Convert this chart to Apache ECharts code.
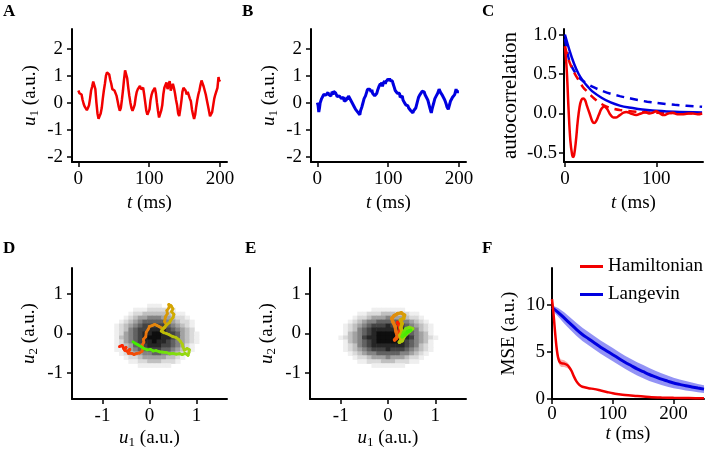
<!DOCTYPE html>
<html><head><meta charset="utf-8">
<script src="https://cdn.jsdelivr.net/npm/echarts@6/dist/echarts.min.js"></script>
<style>html,body{margin:0;padding:0;background:#fff}#c{width:719px;height:457px}</style>
</head><body><div id="c"></div>
<script>
// ---------- DATA ----------
// Panel A: Hamiltonian trace u1(t)
const traceHam = [[0,0.45],[1.5,0.35],[3,0.42],[4.5,0.3],[6,0.1],[7.5,-0.05],[9,-0.15],[10.5,-0.1],[12,-0.28],[13.5,-0.2],[15,-0.1],[16.5,0.15],[18,0.45],[19.5,0.6],[21,0.78],[22.5,0.72],[24,0.5],[25.5,0.0],[27,-0.4],[28.5,-0.6],[30,-0.5],[31.5,-0.4],[33,-0.2],[34.5,0.15],[36,0.45],[37.5,0.7],[39,1.0],[40.5,1.12],[42,1.15],[43.5,1.05],[45,0.85],[46.5,0.7],[48,0.5],[49.5,0.55],[51,0.45],[52.5,0.42],[54,0.25],[55.5,0.05],[57,-0.15],[58.5,-0.3],[60,-0.2],[61.5,0.1],[63,0.45],[64.5,0.85],[66,1.2],[67.5,1.2],[69,0.9],[70.5,0.55],[72,0.25],[73.5,0.0],[75,-0.2],[76.5,-0.3],[78,-0.2],[79.5,-0.08],[81,0.2],[82.5,0.4],[84,0.5],[85.5,0.45],[87,0.62],[88.5,0.5],[90,0.45],[91.5,0.55],[93,0.3],[94.5,0.0],[96,-0.3],[97.5,-0.45],[99,-0.35],[100.5,-0.25],[102,0.1],[103.5,0.3],[105,0.42],[106.5,0.45],[108,0.55],[109.5,0.35],[111,0.0],[112.5,-0.3],[114,-0.55],[115.5,-0.5],[117,-0.3],[118.5,-0.1],[120,0.3],[121.5,0.55],[123,0.6],[124.5,0.75],[126,0.5],[127.5,0.65],[129,0.8],[130.5,0.45],[132,0.5],[133.5,0.7],[135,0.55],[136.5,0.35],[138,0.1],[139.5,-0.1],[141,-0.4],[142.5,-0.5],[144,-0.25],[145.5,0.05],[147,0.4],[148.5,0.55],[150,0.62],[151.5,0.45],[153,0.3],[154.5,0.4],[156,0.38],[157.5,0.15],[159,0.05],[160.5,-0.25],[162,-0.45],[163.5,-0.6],[165,-0.45],[166.5,-0.15],[168,0.1],[169.5,0.3],[171,0.45],[172.5,0.65],[174,0.82],[175.5,0.75],[177,0.6],[178.5,0.55],[180,0.3],[181.5,0.1],[183,-0.1],[184.5,-0.3],[186,-0.5],[187.5,-0.55],[189,-0.35],[190.5,-0.1],[192,0.15],[193.5,0.3],[195,0.35],[196.5,0.55],[198,0.95],[199,0.8],[200,0.85]];

// Panel B: Langevin trace u1(t)
const traceLan = [[0,0.0],[1,-0.1],[2,-0.35],[3,-0.2],[4,0.0],[5,-0.05],[6,0.15],[7,0.2],[8,0.15],[9,0.3],[10,0.25],[11,0.32],[12,0.28],[13,0.35],[14,0.22],[15,0.38],[16,0.3],[17,0.28],[18,0.35],[19,0.25],[20,0.32],[21,0.4],[22,0.3],[23,0.42],[24,0.38],[25,0.45],[26,0.35],[27,0.3],[28,0.22],[29,0.28],[30,0.2],[31,0.25],[32,0.18],[33,0.25],[34,0.15],[35,0.2],[36,0.12],[37,0.2],[38,0.05],[39,0.12],[40,0.02],[41,0.1],[42,0.2],[43,0.12],[44,0.25],[45,0.18],[46,0.22],[47,0.1],[48,0.05],[49,0.08],[50,-0.05],[51,-0.1],[52,-0.15],[53,-0.12],[54,-0.25],[55,-0.2],[56,-0.3],[57,-0.35],[58,-0.42],[59,-0.35],[60,-0.45],[61,-0.3],[62,-0.25],[63,-0.15],[64,-0.05],[65,0.05],[66,0.15],[67,0.1],[68,0.25],[69,0.3],[70,0.42],[71,0.5],[72,0.45],[73,0.55],[74,0.5],[75,0.45],[76,0.4],[77,0.48],[78,0.35],[79,0.3],[80,0.4],[81,0.25],[82,0.32],[83,0.2],[84,0.35],[85,0.45],[86,0.5],[87,0.6],[88,0.55],[89,0.7],[90,0.62],[91,0.75],[92,0.6],[93,0.72],[94,0.68],[95,0.8],[96,0.7],[97,0.78],[98,0.85],[99,0.75],[100,0.88],[101,0.8],[102,0.9],[103,0.82],[104,0.88],[105,0.78],[106,0.8],[107,0.7],[108,0.62],[109,0.55],[110,0.45],[111,0.4],[112,0.48],[113,0.35],[114,0.42],[115,0.3],[116,0.35],[117,0.2],[118,0.25],[119,0.15],[120,0.25],[121,0.1],[122,0.15],[123,0.0],[124,0.05],[125,-0.08],[126,-0.05],[127,-0.15],[128,-0.12],[129,-0.2],[130,-0.25],[131,-0.2],[132,-0.3],[133,-0.35],[134,-0.28],[135,-0.38],[136,-0.3],[137,-0.32],[138,-0.25],[139,-0.2],[140,-0.1],[141,0.0],[142,0.1],[143,0.2],[144,0.15],[145,0.3],[146,0.25],[147,0.35],[148,0.42],[149,0.35],[150,0.45],[151,0.4],[152,0.3],[153,0.35],[154,0.2],[155,0.25],[156,0.1],[157,0.0],[158,-0.1],[159,-0.2],[160,-0.3],[161,-0.38],[162,-0.25],[163,-0.15],[164,-0.05],[165,0.05],[166,0.15],[167,0.1],[168,0.25],[169,0.3],[170,0.35],[171,0.42],[172,0.5],[173,0.45],[174,0.38],[175,0.42],[176,0.3],[177,0.35],[178,0.2],[179,0.25],[180,0.1],[181,0.05],[182,-0.05],[183,-0.15],[184,-0.2],[185,-0.25],[186,-0.15],[187,-0.05],[188,0.05],[189,0.0],[190,0.12],[191,0.2],[192,0.15],[193,0.25],[194,0.3],[195,0.35],[196,0.5],[197,0.4],[198,0.45],[199,0.35],[200,0.4]];

// Panel C: autocorrelations
const acHamT   = [0,2,4,6,8,9,10,12,14,16,18,20,22,24,27,30,32,34,37,40,43,46,50,53,56,60,64,67,72,78,83,88,92,96,100,104,108,113,118,123,128,135,140,145,150];
const acHamV   = [0.85,0.55,0.05,-0.35,-0.53,-0.55,-0.53,-0.35,-0.1,0.08,0.17,0.19,0.17,0.1,0.0,-0.1,-0.12,-0.1,-0.02,0.06,0.09,0.06,-0.02,-0.05,-0.05,-0.02,0.01,0.02,0.0,-0.02,0.0,0.02,0.0,0.01,0.03,0.0,-0.02,0.0,0.01,-0.01,-0.01,0.0,0.0,-0.01,0.0];
const acHamTheoT = [0,3,6,10,15,20,25,30,35,40,45,50,60,80,100,125,150];
const acHamTheoV = [0.85,0.72,0.62,0.52,0.42,0.33,0.27,0.21,0.16,0.12,0.09,0.07,0.045,0.02,0.01,0.005,0.0];
const acLanT   = [0,5,10,15,20,25,30,40,50,60,70,80,90,100,120,150];
const acLanV   = [1.0,0.8,0.63,0.5,0.41,0.34,0.28,0.2,0.14,0.1,0.075,0.058,0.045,0.035,0.022,0.012];
const acLanTheoT = [0,2,5,10,15,20,30,40,50,60,70,80,90,100,120,150];
const acLanTheoV = [0.95,0.82,0.66,0.54,0.46,0.41,0.34,0.29,0.25,0.22,0.195,0.17,0.15,0.135,0.11,0.085];

// Panel D: density (shade levels 0-9) and trajectory
const densD_u1 = [-0.9,-0.8,-0.7,-0.6,-0.5,-0.4,-0.3,-0.2,-0.1,0.0,0.1,0.2,0.3,0.4,0.5,0.6,0.7,0.8,0.9,1.0,1.1];
const densD_u2 = [0.8,0.7,0.6,0.5,0.4,0.3,0.2,0.1,0.0,-0.1,-0.2,-0.3,-0.4,-0.5,-0.6,-0.7,-0.8,-0.9,-1.0];
const densD_rows = [
"000000000000000000000",
"000000000111000000000",
"000000111222211000000",
"000001223333332110000",
"000012344555443221000",
"000123456666654322100",
"001234567777765432100",
"001235677888876543200",
"001245678899877643210",
"001345678999887643210",
"001245678898876543210",
"001234667888776542100",
"001134566777665432100",
"000123445566554321000",
"000012234444433210000",
"000001122333222100000",
"000000011111110000000",
"000000000000000000000",
"000000000000000000000"];
const trajD = [[-0.64,-0.33],[-0.58,-0.3],[-0.55,-0.38],[-0.5,-0.35],[-0.53,-0.42],[-0.47,-0.45],[-0.42,-0.4],[-0.45,-0.5],[-0.38,-0.5],[-0.33,-0.53],[-0.27,-0.5],[-0.21,-0.49],[-0.16,-0.45],[-0.14,-0.36],[-0.16,-0.3],[-0.12,-0.22],[-0.13,-0.15],[-0.08,-0.08],[-0.07,0.03],[-0.03,0.1],[0.0,0.18],[0.06,0.2],[0.11,0.23],[0.16,0.2],[0.21,0.17],[0.26,0.14],[0.28,0.1],[0.33,0.16],[0.36,0.22],[0.32,0.3],[0.34,0.42],[0.38,0.5],[0.37,0.58],[0.42,0.66],[0.41,0.73],[0.46,0.7],[0.5,0.62],[0.47,0.55],[0.52,0.48],[0.5,0.4],[0.45,0.33],[0.43,0.28],[0.37,0.22],[0.32,0.16],[0.27,0.1],[0.25,0.06],[0.3,0.02],[0.36,0.0],[0.42,-0.03],[0.5,-0.08],[0.56,-0.1],[0.62,-0.15],[0.66,-0.2],[0.7,-0.27],[0.71,-0.33],[0.74,-0.42],[0.8,-0.38],[0.85,-0.41],[0.84,-0.48],[0.82,-0.55],[0.76,-0.5],[0.7,-0.53],[0.64,-0.51],[0.57,-0.52],[0.5,-0.5],[0.43,-0.51],[0.36,-0.48],[0.28,-0.47],[0.21,-0.46],[0.14,-0.43],[0.08,-0.44],[0.02,-0.4],[-0.05,-0.41],[-0.12,-0.38],[-0.18,-0.33],[-0.24,-0.29],[-0.3,-0.25],[-0.35,-0.21]];

// Panel E: density (shade levels 0-9) and trajectory
const densE_u1 = [-1.1,-1.0,-0.9,-0.8,-0.7,-0.6,-0.5,-0.4,-0.3,-0.2,-0.1,0.0,0.1,0.2,0.3,0.4,0.5,0.6,0.7,0.8,0.9,1.0,1.1];
const densE_u2 = [0.8,0.7,0.6,0.5,0.4,0.3,0.2,0.1,0.0,-0.1,-0.2,-0.3,-0.4,-0.5,-0.6,-0.7,-0.8,-0.9,-1.0];
const densE_rows = [
"00000000000000000000000",
"00000000000000000000000",
"00000000111111100000000",
"00000112223332221100000",
"00001223444544432210000",
"00012345566666554321000",
"00123456777877765432100",
"00123567888888876532100",
"00134567899999876543100",
"01234578899999887543210",
"00134567899999876543100",
"00123567888888876532100",
"00123456777877765432100",
"00012345566666554321000",
"00001223444544432210000",
"00000112223332221100000",
"00000000111111100000000",
"00000000000000000000000",
"00000000000000000000000"];
const trajE = [[0.2,0.28],[0.24,0.2],[0.26,0.08],[0.22,-0.02],[0.18,-0.12],[0.14,-0.16],[0.2,-0.08],[0.17,0.05],[0.15,0.18],[0.1,0.3],[0.08,0.38],[0.13,0.45],[0.2,0.5],[0.28,0.52],[0.35,0.46],[0.33,0.38],[0.26,0.34],[0.3,0.25],[0.27,0.15],[0.3,0.05],[0.25,-0.05],[0.28,-0.15],[0.24,-0.22],[0.3,-0.18],[0.34,-0.08],[0.4,0.0],[0.46,0.06],[0.52,0.12],[0.45,0.15],[0.38,0.12],[0.33,0.02],[0.3,-0.08],[0.36,-0.03],[0.42,0.05],[0.48,0.08]];

// Panel F: MSE over time
const mseLanT  = [0,10,20,30,40,50,60,70,80,90,100,110,120,130,140,150,160,170,180,190,200,210,220,230,240,250];
const mseLanM  = [9.7,9.2,8.6,8.0,7.4,6.85,6.4,5.95,5.5,5.1,4.7,4.3,3.9,3.55,3.2,2.9,2.6,2.35,2.1,1.9,1.7,1.55,1.4,1.28,1.16,1.05];
const mseLanLo = [9.45,8.75,8.0,7.35,6.7,6.15,5.7,5.25,4.8,4.4,4.0,3.6,3.2,2.85,2.5,2.2,1.92,1.7,1.48,1.3,1.15,1.03,0.9,0.81,0.72,0.63];
const mseLanHi = [9.95,9.65,9.2,8.65,8.1,7.55,7.1,6.65,6.2,5.8,5.4,5.0,4.6,4.25,3.9,3.6,3.28,3.0,2.72,2.5,2.25,2.07,1.9,1.75,1.6,1.47];
const mseHamT  = [0,2,4,6,8,10,12,15,20,25,28,32,36,40,45,50,60,70,80,90,100,110,120,140,160,180,200,225,250];
const mseHamM  = [10.6,9.4,7.9,6.4,5.2,4.4,4.0,3.8,3.75,3.6,3.4,3.0,2.4,1.9,1.5,1.3,1.15,1.05,0.9,0.75,0.6,0.5,0.42,0.32,0.22,0.16,0.12,0.1,0.08];
const mseHamLo = [10.3,9.1,7.6,6.1,4.9,4.0,3.6,3.4,3.4,3.3,3.15,2.8,2.25,1.78,1.4,1.22,1.08,0.98,0.84,0.7,0.55,0.46,0.38,0.29,0.2,0.14,0.1,0.08,0.06];
const mseHamHi = [10.9,9.7,8.2,6.7,5.5,4.8,4.4,4.2,4.1,3.9,3.65,3.2,2.55,2.02,1.6,1.38,1.22,1.12,0.96,0.8,0.65,0.54,0.46,0.35,0.24,0.18,0.14,0.12,0.1];

// Tick values
const ticksTrace = [0,100,200], ticksU = [-2,-1,0,1,2];
const ticksAcT = [0,100], ticksAc = [-0.5,0,0.5,1];
const ticksPlane = [-1,0,1];
const ticksMseT = [0,100,200], ticksMse = [0,5,10];
const legendNames = ['Hamiltonian','Langevin'];

// ---------- STYLE / BUILD ----------
const FONT = '"Liberation Serif","Times New Roman",serif';
const FS = 19;
const RED = '#f20000', BLUE = '#0000e0';
const rich = {
  i: {fontFamily: FONT, fontSize: FS, fontStyle: 'italic', color: '#000', lineHeight: 20},
  s: {fontFamily: FONT, fontSize: 13, color: '#000', lineHeight: 13, padding: [9,0,0,0]},
  n: {fontFamily: FONT, fontSize: FS, color: '#000', lineHeight: 20},
  w: {fontFamily: FONT, fontSize: 21, color: '#000', lineHeight: 22}
};
const greys = ['#ffffff','#efefef','#dadada','#c0c0c0','#a2a2a2','#838383','#626262','#434343','#262626','#0e0e0e'];
const trajStops = [[255,34,0],[230,126,16],[208,172,0],[164,212,20],[64,238,0]];
function trajColor(f){
  const p = f*(trajStops.length-1), k = Math.min(Math.floor(p), trajStops.length-2), r = p-k;
  const a = trajStops[k], b = trajStops[k+1];
  return 'rgb('+a.map((v,j)=>Math.round(v+(b[j]-v)*r)).join(',')+')';
}
function pairs(xs, ys){ return xs.map((x,i)=>[x, ys[i]]); }
function cells(u1s, u2s, rows){
  const out = [];
  rows.forEach((row, r) => { for (let c = 0; c < row.length; c++) { const lv = +row[c]; if (lv > 0) out.push([u1s[c], u2s[r], lv]); } });
  return out;
}
function axis(grid, min, max, ticks, name, nameGap, margin, fmt){
  return {
    type: 'value', gridIndex: grid, min: min, max: max,
    name: name, nameLocation: 'middle', nameGap: nameGap,
    nameTextStyle: {fontFamily: FONT, fontSize: FS, color: '#000', rich: rich},
    axisLine: {show: true, onZero: false, lineStyle: {color: '#000', width: 2}},
    axisTick: {show: true, customValues: ticks, length: 5, lineStyle: {color: '#000', width: 1.5}},
    axisLabel: {show: true, customValues: ticks, margin: margin, fontFamily: FONT, fontSize: FS, color: '#000', formatter: fmt},
    splitLine: {show: false}
  };
}
const tName = '{i|t}{n| (ms)}';
const u1Name = '{i|u}{s|1}{n| (a.u.)}';
const u2Name = '{i|u}{s|2}{n| (a.u.)}';

const grids = [
  {left: 72, top: 29, width: 155, height: 133},
  {left: 311, top: 29, width: 155, height: 133},
  {left: 564, top: 29, width: 139, height: 133},
  {left: 72, top: 268, width: 155, height: 131},
  {left: 310, top: 268, width: 156, height: 131},
  {left: 552, top: 268, width: 152, height: 131}
];
const xAxes = [
  axis(0, -9, 210, ticksTrace, tName, 31, 8),
  axis(1, -9, 210, ticksTrace, tName, 31, 8),
  axis(2, -1, 151, ticksAcT, tName, 31, 8),
  axis(3, -1.65, 1.65, ticksPlane, u1Name, 28, 8),
  axis(4, -1.65, 1.65, ticksPlane, u1Name, 28, 8),
  axis(5, 0, 250, ticksMseT, tName, 25, 6)
];
const yAxes = [
  axis(0, -2.2, 2.73, ticksU, u1Name, 32, 9),
  axis(1, -2.2, 2.73, ticksU, u1Name, 32, 9),
  axis(2, -0.614, 1.07, ticksAc, '{w|autocorrelation}', 43, 7, v => v.toFixed(1)),
  axis(3, -1.65, 1.65, ticksPlane, u2Name, 33, 9),
  axis(4, -1.65, 1.65, ticksPlane, u2Name, 33, 9),
  axis(5, 0, 13.9, ticksMse, '{n|MSE (a.u.)}', 33, 7)
];

function line(idx, data, color, width, extra){
  return Object.assign({type: 'line', xAxisIndex: idx, yAxisIndex: idx, data: data, showSymbol: false, symbol: 'none',
    lineStyle: {color: color, width: width}, itemStyle: {color: color}, silent: true, clip: true, z: 3}, extra || {});
}
function densitySeries(idx, u1s, u2s, rows, step){
  return {type: 'custom', xAxisIndex: idx, yAxisIndex: idx, data: cells(u1s, u2s, rows), silent: true, clip: true, z: 1,
    encode: {x: 0, y: 1},
    renderItem: function(params, api){
      const x = api.value(0), y = api.value(1), lv = api.value(2);
      const a = api.coord([x - step/2, y + step/2]);
      const b = api.coord([x + step/2, y - step/2]);
      return {type: 'rect', shape: {x: a[0], y: a[1], width: b[0]-a[0]+0.6, height: b[1]-a[1]+0.6}, style: {fill: greys[lv]}};
    }};
}
function trajSeries(idx, pts, width){
  return {type: 'custom', xAxisIndex: idx, yAxisIndex: idx, data: pts, silent: true, clip: true, z: 5,
    encode: {x: 0, y: 1},
    renderItem: function(params, api){
      const i = params.dataIndex;
      if (i >= pts.length - 1) return null;
      const p0 = api.coord([api.value(0), api.value(1)]);
      const p1 = api.coord(pts[i+1]);
      return {type: 'line', shape: {x1: p0[0], y1: p0[1], x2: p1[0], y2: p1[1]},
        style: {stroke: trajColor(i/(pts.length-2)), lineWidth: width, lineCap: 'round', lineJoin: 'round'}};
    }};
}
function bandSeries(idx, xs, lo, hi, color){
  return {type: 'custom', xAxisIndex: idx, yAxisIndex: idx, data: xs.map((x,i)=>[x, lo[i], hi[i]]),
    encode: {x: 0, y: [1,2]}, silent: true, clip: true, z: 1,
    renderItem: function(params, api){
      if (params.dataIndex !== 0) return null;
      const top = xs.map((x,i)=>api.coord([x, hi[i]]));
      const bot = xs.map((x,i)=>api.coord([x, lo[i]])).reverse();
      return {type: 'polygon', shape: {points: top.concat(bot)}, style: {fill: color}};
    }};
}

const series = [
  line(0, traceHam, RED, 2.5),
  line(1, traceLan, BLUE, 3),
  line(2, pairs(acLanTheoT, acLanTheoV), BLUE, 2.5, {smooth: 0.3, lineStyle: {color: BLUE, width: 2.5, type: [8,6]}}),
  line(2, pairs(acHamTheoT, acHamTheoV), RED, 2.5, {smooth: 0.3, lineStyle: {color: RED, width: 2.5, type: [8,6]}}),
  line(2, pairs(acLanT, acLanV), BLUE, 2.5, {smooth: 0.3}),
  line(2, pairs(acHamT, acHamV), RED, 2.5, {smooth: 0.4}),
  densitySeries(3, densD_u1, densD_u2, densD_rows, 0.1),
  trajSeries(3, trajD, 2.8),
  densitySeries(4, densE_u1, densE_u2, densE_rows, 0.1),
  trajSeries(4, trajE, 3.5),
  bandSeries(5, mseLanT, mseLanLo, mseLanHi, 'rgba(40,40,235,0.5)'),
  bandSeries(5, mseHamT, mseHamLo, mseHamHi, 'rgba(240,0,0,0.32)'),
  line(5, pairs(mseLanT, mseLanM), BLUE, 3, {name: legendNames[1], smooth: 0.3}),
  line(5, pairs(mseHamT, mseHamM), RED, 2.5, {name: legendNames[0], smooth: 0.3})
];

const letterFont = 'bold 17px ' + FONT;
const letters = [['A',3,3],['B',242,3],['C',482,3],['D',3,240],['E',245,240],['F',482,240]];

const chart = echarts.init(document.getElementById('c'), null, {renderer: 'canvas'});
chart.setOption({
  animation: false,
  backgroundColor: '#fff',
  grid: grids,
  xAxis: xAxes,
  yAxis: yAxes,
  legend: {
    data: legendNames.map(n => ({name: n, icon: 'rect'})),
    orient: 'vertical', left: 575, top: 252, itemWidth: 23, itemHeight: 3, itemGap: 9,
    textStyle: {fontFamily: FONT, fontSize: FS, color: '#000'}, selectedMode: false
  },
  graphic: letters.map(l => ({type: 'text', left: l[1], top: l[2], style: {text: l[0], font: letterFont, fill: '#000'}})),
  series: series
});
</script></body></html>
